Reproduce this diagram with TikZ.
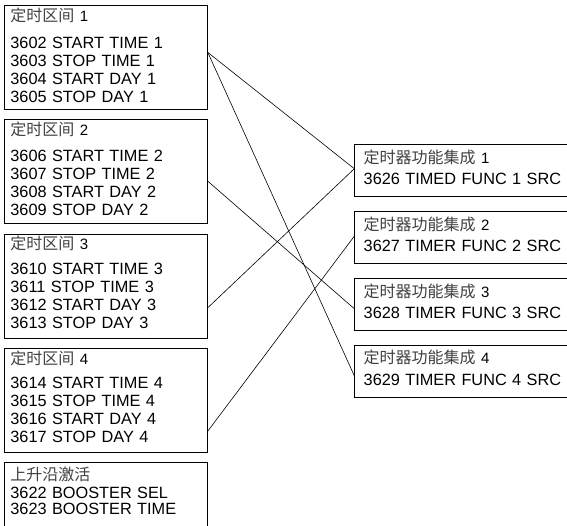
\documentclass[tikz,border=0pt]{standalone}
\usepackage{fontspec}
\setmainfont{Liberation Sans}
\newfontfamily\cjk{Noto Sans CJK SC}
\usepackage{tikz}
\usetikzlibrary{positioning}
\usepackage{xcolor}
\newcommand{\hd}[2]{{\fontsize{15}{18}\selectfont{\fontsize{16}{18}\selectfont\color{black!75}\cjk #1} #2}}

\begin{document}
\begin{tikzpicture}[
    x=1pt, y=-1pt,
    every node/.style={font=\fontsize{16.3}{18}\selectfont},
    grp/.style={rectangle, draw, line width=0.8pt, align=left, text width=191pt, inner xsep=6pt, inner ysep=3pt, text height=12.7pt, text depth=85.3pt},
    src/.style={rectangle, draw, line width=0.8pt, align=left, text width=203pt, inner xsep=9pt, inner ysep=3pt, text height=15.7pt, text depth=30.3pt},
    link/.style={draw, line width=0.6pt}
  ]
  \useasboundingbox (0,0) rectangle (567,525);

  \node[grp, anchor=north west] (g1) at (4,5) {\hd{定时区间}{1}\\[9pt]3602 START TIME 1\\3603 STOP TIME 1\\3604 START DAY 1\\3605 STOP DAY 1};
  \node[grp, below=9.5pt of g1] (g2) {\hd{定时区间}{2}\\[8pt]3606 START TIME 2\\3607 STOP TIME 2\\3608 START DAY 2\\3609 STOP DAY 2};
  \node[grp, below=9.5pt of g2] (g3) {\hd{定时区间}{3}\\[7pt]3610 START TIME 3\\3611 STOP TIME 3\\3612 START DAY 3\\3613 STOP DAY 3};
  \node[grp, below=9.5pt of g3] (g4) {\hd{定时区间}{4}\\[6.3pt]3614 START TIME 4\\3615 STOP TIME 4\\3616 START DAY 4\\3617 STOP DAY 4};
  \node[grp, below=9.5pt of g4, text height=14.5pt, text depth=49.5pt] (g5) {\hd{上升沿激活}{}\\[0.5pt]3622 BOOSTER SEL\\[-2pt]3623 BOOSTER TIME};

  \node[src, anchor=north west] (f1) at (354.3,144.3) {\hd{定时器功能集成}{1}\\[3.3pt]3626 TIMED FUNC 1 SRC};
  \node[src, below=14pt of f1] (f2) {\hd{定时器功能集成}{2}\\[3.3pt]3627 TIMER FUNC 2 SRC};
  \node[src, below=14pt of f2] (f3) {\hd{定时器功能集成}{3}\\[3.3pt]3628 TIMER FUNC 3 SRC};
  \node[src, below=14pt of f3] (f4) {\hd{定时器功能集成}{4}\\[3.3pt]3629 TIMER FUNC 4 SRC};

  \path[link] ([yshift=5pt]g1.east) -- ([yshift=2pt]f1.west);
  \path[link] ([yshift=5pt]g1.east) -- ([yshift=-4.7pt]f4.west);
  \path[link] ([yshift=-9.5pt]g2.east) -- ([yshift=-4.4pt]f3.west);
  \path[link] ([yshift=-21.7pt]g3.east) -- ([yshift=2pt]f1.west);
  \path[link] ([yshift=-30.8pt]g4.east) -- ([yshift=1.3pt]f2.west);

\end{tikzpicture}
\end{document}
